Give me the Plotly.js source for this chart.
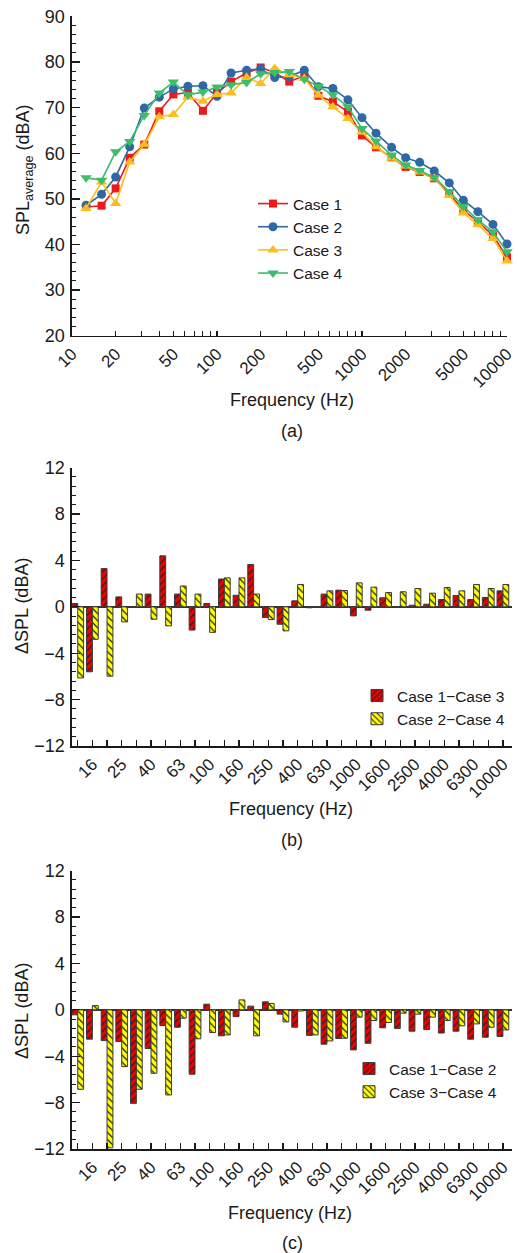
<!DOCTYPE html>
<html><head><meta charset="utf-8">
<script src="https://cdn.plot.ly/plotly-3.0.1.min.js"></script>
<style>html,body{margin:0;padding:0;background:#fff}#chart{width:518px;height:1253px}</style>
</head><body><div id="chart"></div>
<script>
// 1/3-octave band centre frequencies (Hz)
const freqs = [12.5,16,20,25,31.5,40,50,63,80,100,125,160,200,250,315,400,500,630,800,1000,1250,1600,2000,2500,3150,4000,5000,6300,8000,10000];
const bandLabels = ["12.5","16","20","25","31.5","40","50","63","80","100","125","160","200","250","315","400","500","630","800","1000","1250","1600","2000","2500","3150","4000","5000","6300","8000","10000"];

// Panel (a): average SPL (dBA)
const case1 = [48.2,48.5,52.3,59.0,61.9,69.2,72.9,73.3,69.3,73.2,75.7,77.6,78.8,77.7,75.7,77.0,72.6,71.3,69.1,63.9,61.3,59.1,57.0,55.9,54.5,51.2,47.5,45.0,42.0,37.2];
const case2 = [48.6,51.0,54.8,61.4,69.9,72.3,74.1,74.7,74.8,72.5,77.6,78.2,78.5,76.6,76.8,78.2,74.6,74.2,71.7,67.8,64.4,61.3,59.0,58.0,56.1,53.5,49.7,47.2,44.4,40.1];
const case3 = [47.9,53.7,49.0,58.1,61.9,68.0,68.5,72.3,71.4,72.9,73.2,76.6,75.3,78.6,77.2,76.4,72.7,70.2,67.6,64.6,61.4,58.9,57.2,55.9,54.5,50.8,46.9,44.3,41.3,36.4];
const case4 = [54.6,54.1,60.3,62.6,68.3,73.2,75.6,72.8,73.4,74.5,75.0,75.5,77.4,77.7,77.9,76.2,74.7,72.8,70.2,65.4,62.7,59.6,57.4,56.2,54.7,51.6,48.3,45.4,42.8,38.4];

// Panel (b): differences (dBA)
const diff13 = [0.29,-5.6,3.3,0.86,-0.05,1.1,4.4,1.1,-2.0,0.29,2.4,1.0,3.66,-0.92,-1.5,0.52,-0.08,1.1,1.44,-0.78,-0.29,0.78,0.02,0.14,0.23,0.63,0.98,0.63,0.81,1.38];
const diff24 = [-6.13,-2.8,-5.98,-1.3,1.1,-1.07,-1.64,1.8,1.1,-2.2,2.5,2.5,1.1,-1.1,-2.07,1.93,0.0,1.38,1.41,2.07,1.7,1.24,1.3,1.58,1.18,1.67,1.38,1.93,1.58,1.93];

// Panel (c): differences (dBA)
const diff12 = [-0.43,-2.53,-2.65,-2.73,-8.06,-3.34,-1.35,-1.5,-5.55,0.49,-2.24,-0.58,0.32,0.69,-0.37,-1.5,-2.2,-2.96,-2.47,-3.45,-2.88,-1.55,-1.6,-1.84,-1.7,-2.0,-1.84,-2.53,-2.36,-2.3];
const diff34 = [-6.85,0.37,-11.9,-4.9,-6.85,-5.47,-7.34,-0.72,-2.5,-1.96,-2.16,0.86,-2.24,0.55,-1.04,-0.1,-2.16,-2.68,-2.45,-0.63,-0.92,-1.09,-0.29,-0.37,-0.63,-0.92,-1.38,-1.21,-1.5,-1.73];

const seriesNames = ["Case 1","Case 2","Case 3","Case 4"];
const diffNamesB = ["Case 1\u2212Case 3","Case 2\u2212Case 4"];
const diffNamesC = ["Case 1\u2212Case 2","Case 3\u2212Case 4"];
const xTickVals = [10,20,50,100,200,500,1000,2000,5000,10000];
const decadeTicks = [10,100,1000,10000];
const yTicksA = [20,30,40,50,60,70,80,90];
const yTicksDiff = [-12,-8,-4,0,4,8,12];

const FONT = "Liberation Sans, Arial, Helvetica, sans-serif";
const INK = "#1a1a1a";
const W = 518, H = 1253;
const px = v => v / W;
const py = v => 1 - v / H;

const lineColors = ["#ea1a1d","#2f69a5","#fdbd1c","#3dbd6c"];
const markerSyms = ["square","circle","triangle-up","triangle-down"];
const markerSizes = [8,9,10,10];
const lineData = [case1, case2, case3, case4];

const traces = [];
lineData.forEach((d, i) => {
  traces.push({
    type: "scatter", mode: "lines+markers", x: freqs, y: d, name: seriesNames[i],
    xaxis: "x", yaxis: "y", legend: "legend",
    line: {color: lineColors[i], width: 1.6},
    marker: {symbol: markerSyms[i], size: markerSizes[i], color: lineColors[i]},
    cliponaxis: false
  });
});

function barTrace(y, name, color, shape, xa, ya, lg) {
  return {
    type: "bar", x: bandLabels, y: y, name: name, xaxis: xa, yaxis: ya, legend: lg,
    marker: {color: color, line: {color: "#3a3a3a", width: 1},
      pattern: {shape: shape, fgcolor: "#222", bgcolor: color, size: 5, solidity: 0.25, fillmode: "replace"}}
  };
}
traces.push(barTrace(diff13, diffNamesB[0], "#ee0000", "/", "x2", "y2", "legend2"));
traces.push(barTrace(diff24, diffNamesB[1], "#ffff00", "\\", "x2", "y2", "legend2"));
traces.push(barTrace(diff12, diffNamesC[0], "#ee0000", "/", "x3", "y3", "legend3"));
traces.push(barTrace(diff34, diffNamesC[1], "#ffff00", "\\", "x3", "y3", "legend3"));

const tickFont = {family: FONT, size: 17, color: INK};
const axisCommon = {showgrid: false, zeroline: false, showline: true, linecolor: INK, linewidth: 1.6,
  ticks: "inside", tickcolor: INK, tickwidth: 1.3, tickfont: tickFont, mirror: false};

const minorLog = [];
[10,100,1000].forEach(d => { for (let k = 2; k <= 9; k++) minorLog.push(k * d); });

const catAxis = (dom, anchor) => Object.assign({}, axisCommon, {
  domain: dom, anchor: anchor, type: "category", categoryorder: "array", categoryarray: bandLabels,
  range: [-0.39, 29.6], tickmode: "linear", tick0: 1, dtick: 1, ticklabelstep: 2,
  tickangle: -45, ticklen: 6
});
const diffYAxis = (dom, anchor) => Object.assign({}, axisCommon, {
  domain: dom, anchor: anchor, range: [-12, 12], tickmode: "array", tickvals: yTicksDiff,
  ticklen: 8, zeroline: true, zerolinecolor: "#333", zerolinewidth: 1.4, ticklabelstandoff: 2,
  tickfont: {family: FONT, size: 18, color: INK},
  minor: {ticks: "inside", dtick: 0.8, tick0: 0, ticklen: 4, tickcolor: INK, tickwidth: 1}
});

const ann = (text, x, y, extra) => Object.assign({
  text: text, x: px(x), y: py(y), xref: "paper", yref: "paper", xanchor: "center", yanchor: "middle",
  showarrow: false, font: {family: FONT, size: 18, color: INK}
}, extra || {});

const layout = {
  width: W, height: H, margin: {l: 0, r: 0, t: 0, b: 0},
  paper_bgcolor: "#fff", plot_bgcolor: "#fff",
  font: {family: FONT, color: INK},
  barmode: "group", bargap: 0.2, bargroupgap: 0,
  xaxis: Object.assign({}, axisCommon, {
    domain: [px(72), px(507)], anchor: "y", type: "log", range: [1, 4],
    tickmode: "array", tickvals: xTickVals, ticktext: xTickVals.map(String), tickangle: -45, ticklen: 5,
    minor: {ticks: "inside", tickmode: "array", tickvals: minorLog, ticklen: 5, tickcolor: INK, tickwidth: 1}
  }),
  // overlay axis used only for the longer decade tick marks
  xaxis4: {overlaying: "x", anchor: "y", type: "log", range: [1, 4], side: "bottom",
    tickmode: "array", tickvals: decadeTicks, ticks: "inside", ticklen: 10, tickwidth: 1.3, tickcolor: INK,
    showticklabels: false, showline: false, showgrid: false, zeroline: false},
  yaxis: Object.assign({}, axisCommon, {
    domain: [py(335.7), py(16.4)], anchor: "x", range: [20, 90], tickmode: "array", tickvals: yTicksA, ticklen: 8,
    ticklabelstandoff: 2, tickfont: {family: FONT, size: 18, color: INK},
    minor: {ticks: "inside", dtick: 2, ticklen: 4, tickcolor: INK, tickwidth: 1}
  }),
  xaxis2: catAxis([px(72), px(511.7)], "y2"),
  yaxis2: diffYAxis([py(746), py(467.7)], "x2"),
  xaxis3: catAxis([px(72), px(511.7)], "y3"),
  yaxis3: diffYAxis([py(1149), py(870.7)], "x3"),
  legend: {x: px(253), y: py(187), xanchor: "left", yanchor: "top", bgcolor: "rgba(0,0,0,0)",
    font: {family: FONT, size: 15.5, color: INK}, itemwidth: 30, tracegroupgap: 0},
  legend2: {x: px(357), y: py(679), xanchor: "left", yanchor: "top", bgcolor: "rgba(0,0,0,0)",
    font: {family: FONT, size: 15.5, color: INK}, tracegroupgap: 0},
  legend3: {x: px(349), y: py(1052), xanchor: "left", yanchor: "top", bgcolor: "rgba(0,0,0,0)",
    font: {family: FONT, size: 15.5, color: INK}, tracegroupgap: 0},
  showlegend: true,
  annotations: [
    ann("SPL<sub>average</sub> (dBA)", 25, 170, {textangle: -90}),
    ann("Frequency (Hz)", 292, 400),
    ann("(a)", 292, 431),
    ann("\u0394SPL (dBA)", 22, 606, {textangle: -90}),
    ann("Frequency (Hz)", 291, 809),
    ann("(b)", 292, 840),
    ann("\u0394SPL (dBA)", 22, 1011, {textangle: -90}),
    ann("Frequency (Hz)", 290, 1213),
    ann("(c)", 292, 1243)
  ]
};

Plotly.newPlot("chart", traces, layout, {staticPlot: true, displayModeBar: false});
</script>
</body></html>
